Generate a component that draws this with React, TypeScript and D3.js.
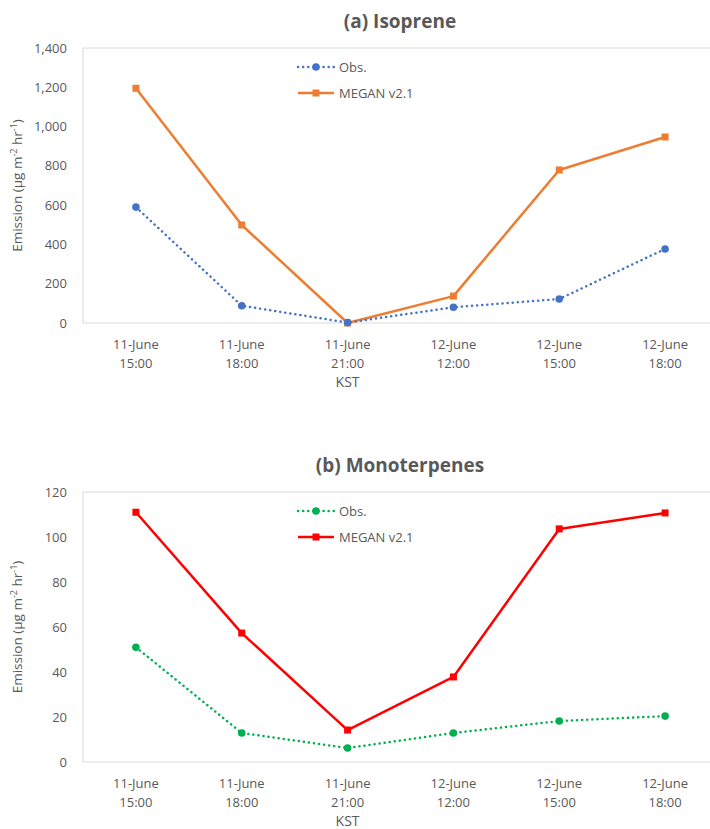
import React from 'react';
import * as d3 from 'd3';

const categories = [
  ['11-June', '15:00'],
  ['11-June', '18:00'],
  ['11-June', '21:00'],
  ['12-June', '12:00'],
  ['12-June', '15:00'],
  ['12-June', '18:00'],
];

const isopreneObs = [590, 88, 2, 80, 122, 377];
const isopreneMegan = [1195, 499, 0, 137, 779, 947];
const isopreneTicks = [0, 200, 400, 600, 800, 1000, 1200, 1400];

const monoObs = [51, 12.9, 6.2, 12.9, 18.2, 20.4];
const monoMegan = [111, 57.3, 14.2, 37.8, 103.6, 110.7];
const monoTicks = [0, 20, 40, 60, 80, 100, 120];

const FONT = "'Open Sans', 'Noto Sans', sans-serif";
const GREY = '#595959';

type PanelProps = {
  top: number;
  plotH: number;
  title: string;
  obs: number[];
  megan: number[];
  ticks: number[];
  obsColor: string;
  meganColor: string;
  fmt: (v: number) => string;
};

function Panel({ top, plotH, title, obs, megan, ticks, obsColor, meganColor, fmt }: PanelProps) {
  const left = 83;
  const right = 718;
  const plotTop = top + 48;
  const plotBottom = plotTop + plotH;

  const x = d3.scaleBand<number>()
    .domain(categories.map((_, i) => i))
    .range([left, right]);
  const y = d3.scaleLinear()
    .domain([0, ticks[ticks.length - 1]])
    .range([plotBottom, plotTop]);

  const cx = (i: number) => (x(i) as number) + x.bandwidth() / 2;
  const line = d3.line<number>().x((_, i) => cx(i)).y((d) => y(d));

  const legX = 298;
  const legY1 = top + 67;
  const legY2 = top + 93;

  return (
    <g>
      <text x={400} y={top + 28} textAnchor="middle" fontSize={19} fontWeight="bold" fill={GREY}>
        {title}
      </text>
      <rect x={left} y={plotTop} width={right - left} height={plotBottom - plotTop}
        fill="none" stroke="#d9d9d9" strokeWidth={1} />
      {ticks.map((t) => (
        <text key={t} x={67} y={y(t)} dy="0.35em" textAnchor="end" fontSize={13} fill={GREY}>
          {fmt(t)}
        </text>
      ))}
      <text transform={`translate(22, ${(plotTop + plotBottom) / 2}) rotate(-90)`}
        textAnchor="middle" fontSize={13.5} fill={GREY}>
        Emission (μg m<tspan dy={-5} fontSize={9}>-2</tspan><tspan dy={5}> hr</tspan>
        <tspan dy={-5} fontSize={9}>-1</tspan><tspan dy={5}>)</tspan>
      </text>
      {categories.map((c, i) => (
        <text key={i} x={cx(i)} textAnchor="middle" fontSize={13} fill={GREY}>
          <tspan x={cx(i)} y={plotBottom + 26}>{c[0]}</tspan>
          <tspan x={cx(i)} y={plotBottom + 45}>{c[1]}</tspan>
        </text>
      ))}
      <text x={cx(2)} y={plotBottom + 64} textAnchor="middle" fontSize={14} fill={GREY}>KST</text>

      <path d={line(megan) || ''} fill="none" stroke={meganColor} strokeWidth={2.5} strokeLinejoin="round" />
      {megan.map((v, i) => (
        <rect key={i} x={cx(i) - 3.5} y={y(v) - 3.5} width={7} height={7} fill={meganColor} />
      ))}
      <path d={line(obs) || ''} fill="none" stroke={obsColor} strokeWidth={2.5}
        strokeDasharray="0.1 5" strokeLinecap="round" />
      {obs.map((v, i) => (
        <circle key={i} cx={cx(i)} cy={y(v)} r={3.8} fill={obsColor} />
      ))}

      <line x1={legX} x2={legX + 36} y1={legY1} y2={legY1} stroke={obsColor} strokeWidth={2.5}
        strokeDasharray="0.1 5" strokeLinecap="round" />
      <circle cx={legX + 18} cy={legY1} r={3.8} fill={obsColor} />
      <text x={legX + 41} y={legY1} dy="0.35em" fontSize={13} fill={GREY}>Obs.</text>
      <line x1={legX} x2={legX + 36} y1={legY2} y2={legY2} stroke={meganColor} strokeWidth={2.5} />
      <rect x={legX + 14.5} y={legY2 - 3.5} width={7} height={7} fill={meganColor} />
      <text x={legX + 41} y={legY2} dy="0.35em" fontSize={13} fill={GREY}>MEGAN v2.1</text>
    </g>
  );
}

export default function App() {
  const comma = d3.format(',');
  return (
    <svg width={710} height={829} fontFamily={FONT}
      style={{ position: 'absolute', left: 0, top: 0, background: '#fff' }}>
      <Panel top={0} plotH={275} title="(a) Isoprene" obs={isopreneObs} megan={isopreneMegan}
        ticks={isopreneTicks} obsColor="#4472c4" meganColor="#ed7d31" fmt={comma} />
      <Panel top={444} plotH={270} title="(b) Monoterpenes" obs={monoObs} megan={monoMegan}
        ticks={monoTicks} obsColor="#00b050" meganColor="#ff0000" fmt={(v) => String(v)} />
    </svg>
  );
}
